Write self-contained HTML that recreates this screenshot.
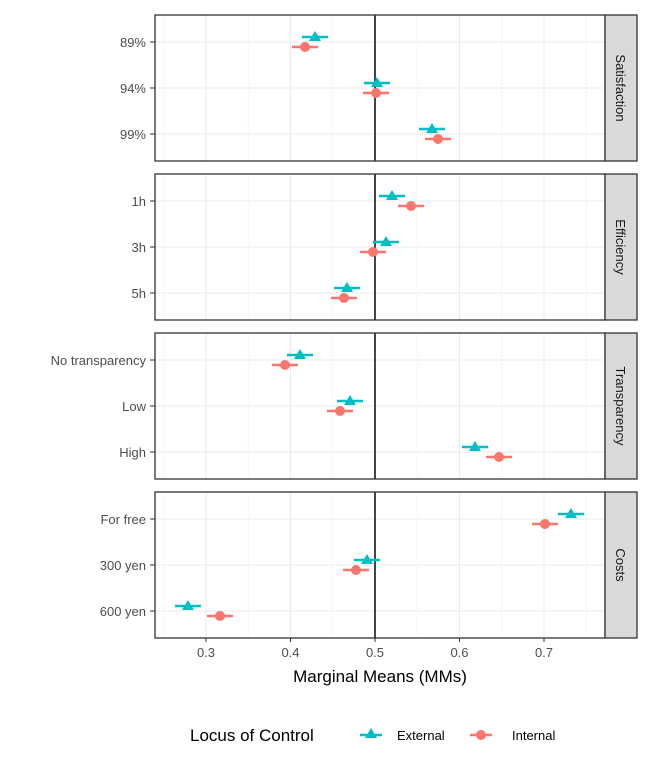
<!DOCTYPE html><html><head><style>body{margin:0;background:#fff}</style></head><body>
<svg width="661" height="768" xmlns="http://www.w3.org/2000/svg" xmlns:xlink="http://www.w3.org/1999/xlink" font-family="Liberation Sans, sans-serif">
<defs>
<g id="pg">
<rect x="155" y="0" width="450" height="146" fill="#fff"/>
<g stroke="#f2f2f2" stroke-width="0.6">
<line x1="163.75" y1="0" x2="163.75" y2="146"/><line x1="248.25" y1="0" x2="248.25" y2="146"/><line x1="332.75" y1="0" x2="332.75" y2="146"/><line x1="417.25" y1="0" x2="417.25" y2="146"/><line x1="501.75" y1="0" x2="501.75" y2="146"/><line x1="586.25" y1="0" x2="586.25" y2="146"/>
</g>
<g stroke="#ebebeb" stroke-width="1.1">
<line x1="206" y1="0" x2="206" y2="146"/><line x1="290.5" y1="0" x2="290.5" y2="146"/><line x1="459.5" y1="0" x2="459.5" y2="146"/><line x1="544" y1="0" x2="544" y2="146"/>
<line x1="155" y1="27" x2="605" y2="27"/><line x1="155" y1="73" x2="605" y2="73"/><line x1="155" y1="119" x2="605" y2="119"/>
</g>
<g stroke="#333"><line x1="150" y1="27" x2="155" y2="27"/><line x1="150" y1="73" x2="155" y2="73"/><line x1="150" y1="119" x2="155" y2="119"/></g>
<line x1="375" y1="0" x2="375" y2="146" stroke="#444" stroke-width="2"/>
<rect x="155" y="0" width="450" height="146" fill="none" stroke="#333" stroke-width="1.3"/>
<rect x="605" y="0" width="32" height="146" fill="#d9d9d9" stroke="#333" stroke-width="1.3"/>
</g>
<polygon id="t" points="0,-6 6,4 -6,4" fill="#00bfc4"/>
<circle id="c" cx="0" cy="0" r="5" fill="#f8766d"/>
</defs>
<use xlink:href="#pg" href="#pg" transform="translate(0,15)"/>
<use xlink:href="#pg" href="#pg" transform="translate(0,174)"/>
<use xlink:href="#pg" href="#pg" transform="translate(0,333)"/>
<use xlink:href="#pg" href="#pg" transform="translate(0,492)"/>
<g font-size="13" fill="#4d4d4d" text-anchor="end">
<text x="146" y="47">89%</text><text x="146" y="93">94%</text><text x="146" y="139">99%</text>
<text x="146" y="206">1h</text><text x="146" y="252">3h</text><text x="146" y="298">5h</text>
<text x="146" y="365">No transparency</text><text x="146" y="411">Low</text><text x="146" y="457">High</text>
<text x="146" y="524">For free</text><text x="146" y="570">300 yen</text><text x="146" y="616">600 yen</text>
</g>
<g font-size="13" fill="#1a1a1a" text-anchor="middle">
<text transform="translate(616,88) rotate(90)">Satisfaction</text>
<text transform="translate(616,247) rotate(90)">Efficiency</text>
<text transform="translate(616,406) rotate(90)">Transparency</text>
<text transform="translate(616,565) rotate(90)">Costs</text>
</g>
<path d="M302 37h26 M364 83h26 M419 129h26 M379 196h26 M373 242h26 M334 288h26 M287 355h26 M337 401h26 M462 447h26 M558 514h26 M354 560h26 M175 606h26" stroke="#00bfc4" stroke-width="2.5"/>
<path d="M292 47h26 M363 93h26 M425 139h26 M398 206h26 M360 252h26 M331 298h26 M272 365h26 M327 411h26 M486 457h26 M532 524h26 M343 570h26 M207 616h26" stroke="#f8766d" stroke-width="2.5"/>
<g fill="#00bfc4">
<polygon points="315,31 321,41 309,41"/><polygon points="377,77 383,87 371,87"/><polygon points="432,123 438,133 426,133"/>
<polygon points="392,190 398,200 386,200"/><polygon points="386,236 392,246 380,246"/><polygon points="347,282 353,292 341,292"/>
<polygon points="300,349 306,359 294,359"/><polygon points="350,395 356,405 344,405"/><polygon points="475,441 481,451 469,451"/>
<polygon points="571,508 577,518 565,518"/><polygon points="367,554 373,564 361,564"/><polygon points="188,600 194,610 182,610"/>
</g>
<g fill="#f8766d">
<circle cx="305" cy="47" r="5"/><circle cx="376" cy="93" r="5"/><circle cx="438" cy="139" r="5"/>
<circle cx="411" cy="206" r="5"/><circle cx="373" cy="252" r="5"/><circle cx="344" cy="298" r="5"/>
<circle cx="285" cy="365" r="5"/><circle cx="340" cy="411" r="5"/><circle cx="499" cy="457" r="5"/>
<circle cx="545" cy="524" r="5"/><circle cx="356" cy="570" r="5"/><circle cx="220" cy="616" r="5"/>
</g>
<g stroke="#333"><line x1="206" y1="638" x2="206" y2="642"/><line x1="290.5" y1="638" x2="290.5" y2="642"/><line x1="375" y1="638" x2="375" y2="642"/><line x1="459.5" y1="638" x2="459.5" y2="642"/><line x1="544" y1="638" x2="544" y2="642"/></g>
<g font-size="13" fill="#4d4d4d" text-anchor="middle">
<text x="206" y="657">0.3</text><text x="290.5" y="657">0.4</text><text x="375" y="657">0.5</text><text x="459.5" y="657">0.6</text><text x="544" y="657">0.7</text>
</g>
<text x="380" y="682" text-anchor="middle" font-size="17" fill="#000">Marginal Means (MMs)</text>
<text x="190" y="741" font-size="17" fill="#000">Locus of Control</text>
<line x1="360" y1="735" x2="382" y2="735" stroke="#00bfc4" stroke-width="2.5"/><polygon points="371,728 377,738 365,738" fill="#00bfc4"/><text x="397" y="740" font-size="13">External</text>
<line x1="470" y1="735" x2="492" y2="735" stroke="#f8766d" stroke-width="2.5"/><circle cx="481" cy="735" r="5" fill="#f8766d"/><text x="512" y="740" font-size="13">Internal</text>
</svg></body></html>
